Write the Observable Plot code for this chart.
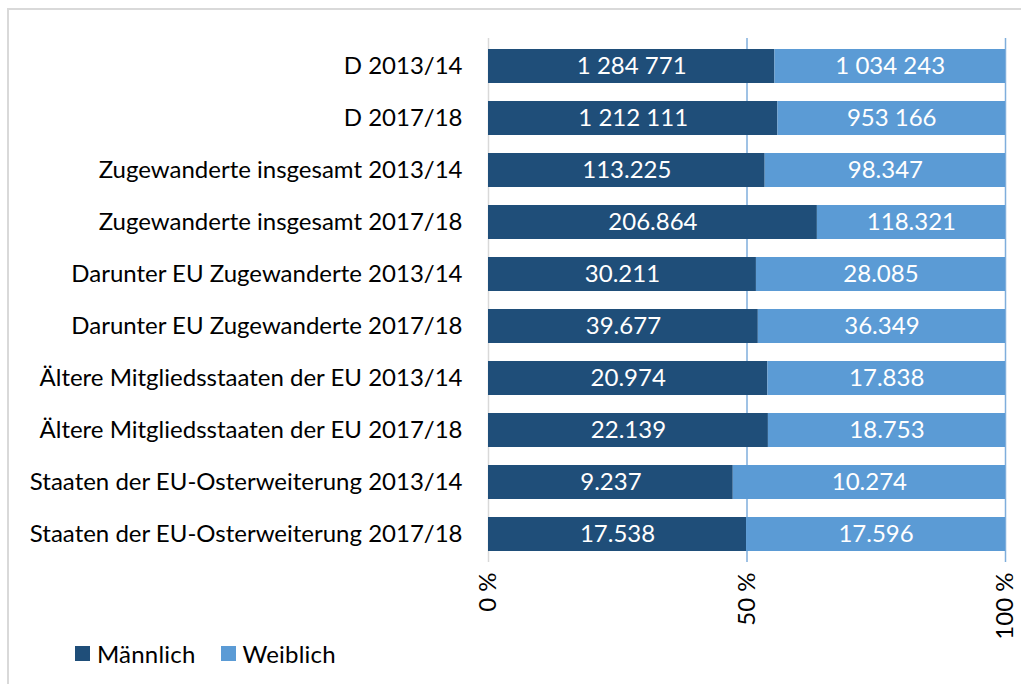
<!DOCTYPE html>
<html>
<head>
<meta charset="utf-8">
<script src="https://cdn.jsdelivr.net/npm/d3@7"></script>
<script src="https://cdn.jsdelivr.net/npm/@observablehq/plot@0.6"></script>
<style>
  html, body { margin: 0; padding: 0; background: #fff; width: 1021px; height: 684px; overflow: hidden; font-family: Lato, sans-serif; }
  #frame { position: absolute; left: 7px; top: 8px; width: 1100px; height: 800px; border: 2px solid #d9d9d9; box-sizing: border-box; pointer-events: none; }
  #chart { position: absolute; left: 0; top: 0; }
  #legend { position: absolute; left: 75px; top: 639px; display: flex; align-items: center; font-size: 24px; color: #000; }
  .sw { width: 15px; height: 15px; display: inline-block; margin-right: 7px; }
  .item { display: flex; align-items: center; margin-right: 25px; letter-spacing: 0.2px; }
</style>
</head>
<body>
<div id="chart"></div>
<div id="legend"></div>
<div id="frame"></div>
<script>
const categories = [
  "D 2013/14",
  "D 2017/18",
  "Zugewanderte insgesamt 2013/14",
  "Zugewanderte insgesamt 2017/18",
  "Darunter EU Zugewanderte 2013/14",
  "Darunter EU Zugewanderte 2017/18",
  "Ältere Mitgliedsstaaten der EU 2013/14",
  "Ältere Mitgliedsstaaten der EU 2017/18",
  "Staaten der EU-Osterweiterung 2013/14",
  "Staaten der EU-Osterweiterung 2017/18"
];
const seriesNames = ["Männlich", "Weiblich"];
const seriesColors = ["#1F4E79", "#5B9BD5"];
const male = [1284771, 1212111, 113225, 206864, 30211, 39677, 20974, 22139, 9237, 17538];
const female = [1034243, 953166, 98347, 118321, 28085, 36349, 17838, 18753, 10274, 17596];
const maleLabels = ["1 284 771", "1 212 111", "113.225", "206.864", "30.211", "39.677", "20.974", "22.139", "9.237", "17.538"];
const femaleLabels = ["1 034 243", "953 166", "98.347", "118.321", "28.085", "36.349", "17.838", "18.753", "10.274", "17.596"];
const xTicks = [0, 0.5, 1];

const data = [];
categories.forEach((c, i) => {
  data.push({cat: c, series: seriesNames[0], value: male[i], label: maleLabels[i]});
  data.push({cat: c, series: seriesNames[1], value: female[i], label: femaleLabels[i]});
});

const chart = Plot.plot({
  width: 1021,
  height: 632,
  marginLeft: 488,
  marginRight: 16,
  marginTop: 38,
  marginBottom: 70,
  style: {fontFamily: "Lato, sans-serif", fontSize: "24px", color: "#000", background: "transparent", overflow: "visible"},
  x: {domain: [0, 1], ticks: xTicks, tickFormat: d => Math.round(d * 100) + " %", tickRotate: -90, tickSize: 0, tickPadding: 10, label: null},
  y: {domain: categories, paddingInner: 0.35, paddingOuter: 0.175, tickSize: 0, tickPadding: 26, label: null},
  color: {domain: seriesNames, range: seriesColors},
  marks: [
    Plot.ruleX([0], {stroke: "#d9d9d9", strokeWidth: 1.5}),
    Plot.ruleX([0.5, 1], {stroke: "#7FAEDC", strokeWidth: 1.5}),
    Plot.barX(data, Plot.stackX({offset: "normalize", x: "value", y: "cat", z: "series", fill: "series", order: null})),
    Plot.textX(data, Plot.stackX({offset: "normalize", x: "value", y: "cat", z: "series", text: "label", order: null, fill: "white", fontSize: 24}))
  ]
});
document.getElementById("chart").appendChild(chart);

const legend = document.getElementById("legend");
seriesNames.forEach((s, i) => {
  const it = document.createElement("span");
  it.className = "item";
  const sw = document.createElement("span");
  sw.className = "sw";
  sw.style.background = seriesColors[i];
  it.appendChild(sw);
  it.appendChild(document.createTextNode(s));
  legend.appendChild(it);
});
</script>
</body>
</html>
